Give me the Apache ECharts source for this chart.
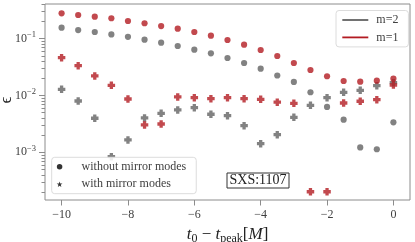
<!DOCTYPE html>
<html>
<head>
<meta charset="utf-8">
<script src="https://cdn.jsdelivr.net/npm/echarts@6/dist/echarts.min.js"></script>
<style>
html,body{margin:0;padding:0;background:#fff;}
#chart{width:415px;height:242px;}
</style>
</head>
<body>
<div id="chart"></div>
<script>
// ---- data ----
const tValues = [-10, -9.5, -9, -8.5, -8, -7.5, -7, -6.5, -6, -5.5, -5, -4.5, -4, -3.5, -3, -2.5, -2, -1.5, -1, -0.5, 0];
const m1Without = [0.280, 0.261, 0.244, 0.229, 0.205, 0.187, 0.167, 0.150, 0.131, 0.113, 0.0948, 0.0784, 0.0632, 0.0496, 0.0373, 0.0281, 0.0218, 0.0180, 0.0175, 0.0182, 0.0198];
const m2Without = [0.156, 0.142, 0.131, 0.119, 0.108, 0.096, 0.085, 0.0744, 0.064, 0.0553, 0.0457, 0.0373, 0.0296, 0.0225, 0.0173, 0.0114, 0.00628, 0.00375, 0.00122, 0.00113, 0.00337];
const m1With = [0.0463, 0.0335, 0.0221, 0.0151, 0.00867, 0.00303, 0.00315, 0.00942, 0.00915, 0.00879, 0.00915, 0.00879, 0.00857, 0.00762, 0.00729, 0.000202, 0.000202, 0.00738, 0.00791, 0.00844, 0.0153];
const m2With = [0.01285, 0.0080, 0.00397, 0.000838, 0.00165, 0.00402, 0.00486, 0.00556, 0.00610, 0.00467, 0.00441, 0.00294, 0.00142, 0.00204, 0.00413, 0.00671, 0.00915, 0.01138, 0.01235, 0.0149, 0.0168];
const xTicks = [-10, -8, -6, -4, -2, 0];
const yTicks = [0.001, 0.01, 0.1];
const yMinorTicks = [2e-4,3e-4,4e-4,5e-4,6e-4,7e-4,8e-4,9e-4,2e-3,3e-3,4e-3,5e-3,6e-3,7e-3,8e-3,9e-3,0.02,0.03,0.04,0.05,0.06,0.07,0.08,0.09,0.2,0.3,0.4];
const legendM = ['m=2', 'm=1'];
const legendMarker = ['without mirror modes', 'with mirror modes'];
const boxLabel = 'SXS:1107';
const yName = '\u03f5';

// ---- style ----
const RED = '#b31b22';
const GRAY = '#636363';
const SPINE = '#8c8c8c';
const TXT = '#404040';
const FONT = '"Liberation Serif", "DejaVu Serif", serif';
const PLUS = 'path://M-2.2,-5 L2.2,-5 L2.2,-2.2 L5,-2.2 L5,2.2 L2.2,2.2 L2.2,5 L-2.2,5 L-2.2,2.2 L-5,2.2 L-5,-2.2 L-2.2,-2.2 Z';
const STAR = 'path://M0,-10 L2.35,-3.24 L9.51,-3.09 L3.8,1.24 L5.88,8.09 L0,4 L-5.88,8.09 L-3.8,1.24 L-9.51,-3.09 L-2.35,-3.24 Z';

const pairs = (ys) => tValues.map((t, i) => [t, ys[i]]);
const fmtX = (v) => (v < 0 ? '\u2212' + (-v) : String(v));
const fmtY = (v) => '{b|10}{s|\u2212' + Math.round(-Math.log10(v)) + '}';

const chart = echarts.init(document.getElementById('chart'), null, {renderer: 'canvas'});
chart.setOption({
  animation: false,
  backgroundColor: '#fff',
  textStyle: {fontFamily: FONT},
  grid: {left: 45, right: 5, top: 4, bottom: 42, outerBoundsMode: 'none', containLabel: false,
         show: true, borderColor: SPINE, borderWidth: 1, backgroundColor: 'transparent'},
  title: {
    text: boxLabel, left: 227, top: 172.5,
    padding: [1, 2.5, 1, 2.5], borderColor: '#333', borderWidth: 1, backgroundColor: '#fff',
    textStyle: {fontFamily: FONT, fontSize: 14, lineHeight: 14, fontWeight: 'normal', color: '#222'}
  },
  graphic: [{
    type: 'text', x: 7, y: 100, rotation: Math.PI / 2,
    style: {text: yName, font: '17px ' + FONT, fill: '#222', align: 'center', verticalAlign: 'middle'}
  }],
  legend: [
    {
      data: legendM.map(n => ({name: n, icon: 'rect'})),
      orient: 'vertical', left: 336, top: 10.5,
      itemWidth: 26, itemHeight: 1.8, itemGap: 4.4,
      padding: [3, 10, 3, 6.3],
      borderColor: '#dcdcdc', borderWidth: 1, borderRadius: 3, backgroundColor: 'rgba(255,255,255,0.85)',
      textStyle: {fontFamily: FONT, fontSize: 12, lineHeight: 13, color: TXT, padding: [0, 0, 0, 3]},
      selectedMode: false
    },
    {
      data: [{name: legendMarker[0], icon: 'circle'}, {name: legendMarker[1], icon: STAR}],
      orient: 'vertical', left: 51.7, top: 157.3,
      itemWidth: 22, itemHeight: 5.5, itemGap: 4.4,
      padding: [3, 10, 3, 5],
      borderColor: '#dcdcdc', borderWidth: 1, borderRadius: 3, backgroundColor: 'rgba(255,255,255,0.85)',
      textStyle: {fontFamily: FONT, fontSize: 12, lineHeight: 13, color: TXT, padding: [0, 0, 0, 6]},
      selectedMode: false
    }
  ],
  xAxis: {
    type: 'value', min: -10.5, max: 0.5,
    axisLine: {show: false, onZero: false},
    splitLine: {show: false},
    axisTick: {show: true, customValues: xTicks, length: 5.5, lineStyle: {color: SPINE, width: 1}},
    axisLabel: {customValues: xTicks, formatter: fmtX, margin: 9, fontFamily: FONT, fontSize: 12, color: TXT},
    name: '{i|t}{sub|0}{n| \u2212 }{i|t}{sub|peak}{n|[}{i|M}{n|]}',
    nameLocation: 'middle', nameGap: 21,
    nameTextStyle: {
      fontFamily: FONT, fontSize: 17, color: '#222',
      rich: {
        i: {fontFamily: FONT, fontStyle: 'italic', fontSize: 17, lineHeight: 20, color: '#222'},
        n: {fontFamily: FONT, fontSize: 17, lineHeight: 20, color: '#222'},
        sub: {fontFamily: FONT, fontSize: 12, lineHeight: 12, verticalAlign: 'bottom', color: '#222'}
      }
    }
  },
  yAxis: [
    {
      type: 'log', logBase: 10, min: 1.445e-4, max: 0.408, position: 'left',
      axisLine: {show: false, onZero: false},
      splitLine: {show: false},
      minorTick: {show: false},
      axisTick: {show: true, customValues: yTicks, length: 6, lineStyle: {color: SPINE, width: 1}},
      axisLabel: {
        customValues: yTicks, formatter: fmtY, margin: 9, color: TXT,
        rich: {
          b: {fontFamily: FONT, fontSize: 12, lineHeight: 12, color: TXT},
          s: {fontFamily: FONT, fontSize: 8.5, lineHeight: 8.5, padding: [0, 0, 8, 0], color: TXT}
        }
      }
    },
    {
      type: 'log', logBase: 10, min: 1.445e-4, max: 0.408, position: 'left', offset: 0,
      axisLine: {show: false, onZero: false},
      splitLine: {show: false},
      axisLabel: {show: false},
      axisTick: {show: true, customValues: yMinorTicks, length: 3.5, lineStyle: {color: SPINE, width: 1}}
    }
  ],
  series: [
    {name: 'm=2', type: 'line', data: [], color: GRAY},
    {name: 'm=1', type: 'line', data: [], color: RED},
    {name: legendMarker[0], type: 'scatter', data: [], color: '#000', symbol: 'circle'},
    {name: legendMarker[1], type: 'scatter', data: [], color: '#000', symbol: STAR},
    {name: 'm2-without', type: 'scatter', data: pairs(m2Without), symbol: 'circle', symbolSize: 6.2, itemStyle: {color: GRAY}},
    {name: 'm2-with', type: 'scatter', data: pairs(m2With), symbol: PLUS, symbolSize: 7.5, itemStyle: {color: GRAY}},
    {name: 'm1-without', type: 'scatter', data: pairs(m1Without), symbol: 'circle', symbolSize: 6.2, itemStyle: {color: RED}},
    {name: 'm1-with', type: 'scatter', data: pairs(m1With), symbol: PLUS, symbolSize: 7.5, itemStyle: {color: RED}}
  ]
});
</script>
</body>
</html>
